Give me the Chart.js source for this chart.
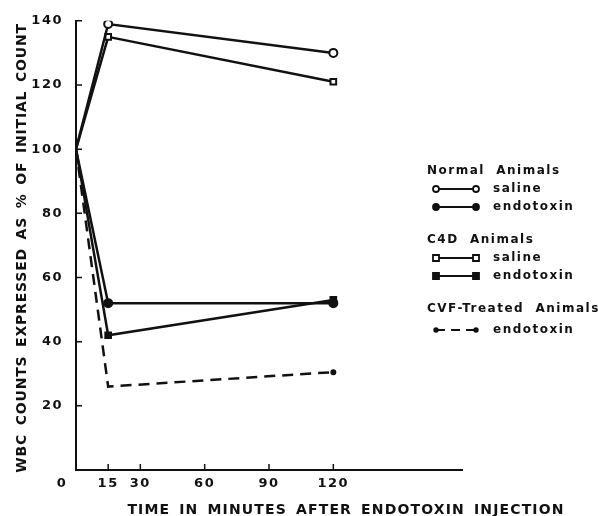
<!DOCTYPE html>
<html>
<head>
<meta charset="utf-8">
<script src="https://cdn.jsdelivr.net/npm/chart.js@4.4.1/dist/chart.umd.min.js"></script>
<style>
  html, body { margin: 0; padding: 0; background: #fff; }
  #wrap { width: 598px; height: 516px; position: relative; }
</style>
</head>
<body>
<div id="wrap"><canvas id="wbc"></canvas></div>
<script>
"use strict";

// values (percent of initial WBC count)
const minutes = [0, 15, 120];
const normalSaline = [100, 139, 130];
const normalEndotoxin = [100, 52, 52];
const c4dSaline = [100, 135, 121];
const c4dEndotoxin = [100, 42, 53];
const cvfEndotoxin = [100, 26, 30.5];

const xTicks = [15, 30, 60, 90, 120];
const yTicks = [20, 40, 60, 80, 100, 120, 140];

const INK = "#111";
const FONT = "'DejaVu Sans', sans-serif";
Chart.defaults.font.family = FONT;
Chart.defaults.font.weight = "bold";
Chart.defaults.color = INK;

function pts(ys) { return minutes.map((m, i) => ({ x: m, y: ys[i] })); }

function series(label, ys, style, filled, extra) {
  return Object.assign({
    label, data: pts(ys),
    borderColor: INK, borderWidth: 2.5,
    pointStyle: style, pointRadius: [0, 4, 4], pointHoverRadius: [0, 4, 4],
    pointBorderWidth: 2, pointBorderColor: INK,
    pointBackgroundColor: filled ? INK : "#fff",
    tension: 0, fill: false,
  }, extra || {});
}

// inward tick marks, axis titles, the corner "0", and the grouped legend
const decor = {
  id: "decor",
  beforeDraw(chart) { chart.ctx.letterSpacing = "1.5px"; },
  afterDraw(chart) {
    const { ctx, scales: { x, y } } = chart;
    ctx.save();
    ctx.strokeStyle = INK;
    ctx.lineWidth = 1.5;
    ctx.beginPath();
    yTicks.forEach(v => {
      const py = y.getPixelForValue(v);
      ctx.moveTo(x.left, py); ctx.lineTo(x.left + 6, py);
    });
    xTicks.forEach(v => {
      const px = x.getPixelForValue(v);
      ctx.moveTo(px, y.bottom); ctx.lineTo(px, y.bottom - 6);
    });
    ctx.stroke();

    ctx.fillStyle = INK;
    ctx.font = "bold 13px " + FONT;
    ctx.textAlign = "center";
    ctx.textBaseline = "middle";
    ctx.fillText("0", 62, 484);

    ctx.font = "bold 14px " + FONT;
    ctx.wordSpacing = "3px";
    ctx.letterSpacing = "1.15px";
    ctx.fillText("TIME IN MINUTES AFTER ENDOTOXIN INJECTION", 346, 510);

    ctx.save();
    ctx.translate(22, 248);
    ctx.rotate(-Math.PI / 2);
    ctx.letterSpacing = "0.8px";
    ctx.fillText("WBC COUNTS EXPRESSED AS % OF INITIAL COUNT", 0, 0);
    ctx.restore();
    ctx.wordSpacing = "0px";

    // legend
    ctx.textAlign = "left";
    ctx.letterSpacing = "1.5px";
    ctx.font = "bold 12px " + FONT;
    const heads = [["Normal  Animals", 171], ["C4D  Animals", 240], ["CVF-Treated  Animals", 309]];
    heads.forEach(([t, yy]) => ctx.fillText(t, 427, yy));
    const rows = [
      ["saline", 189, "circle", false, false],
      ["endotoxin", 207, "circle", true, false],
      ["saline", 258, "rect", false, false],
      ["endotoxin", 276, "rect", true, false],
      ["endotoxin", 330, "dot", true, true],
    ];
    rows.forEach(([t, yy, shape, filled, dashed]) => {
      ctx.lineWidth = 2;
      ctx.setLineDash(dashed ? [9, 6] : []);
      ctx.beginPath();
      ctx.moveTo(436, yy); ctx.lineTo(476, yy);
      ctx.stroke();
      ctx.setLineDash([]);
      [436, 476].forEach(cx => {
        ctx.beginPath();
        if (shape === "circle") ctx.arc(cx, yy, 3, 0, Math.PI * 2);
        else if (shape === "rect") ctx.rect(cx - 3, yy - 3, 6, 6);
        else ctx.arc(cx, yy, 1.8, 0, Math.PI * 2);
        ctx.fillStyle = filled ? INK : "#fff";
        ctx.fill();
        ctx.lineWidth = 1.8;
        ctx.stroke();
      });
      ctx.fillStyle = INK;
      ctx.fillText(t, 493, yy);
    });
    ctx.restore();
  },
};

new Chart(document.getElementById("wbc"), {
  type: "line",
  data: {
    datasets: [
      series("Normal saline", normalSaline, "circle", false),
      series("C4D saline", c4dSaline, "rect", false),
      series("Normal endotoxin", normalEndotoxin, "circle", true),
      series("C4D endotoxin", c4dEndotoxin, "rect", true),
      series("CVF endotoxin", cvfEndotoxin, "circle", true,
        { borderDash: [11, 7], pointRadius: [0, 0, 2], pointHoverRadius: [0, 0, 2] }),
    ],
  },
  options: {
    responsive: true, maintainAspectRatio: false, animation: false,
    layout: { padding: { top: 19, right: 136, bottom: 0, left: 0 } },
    plugins: { legend: { display: false }, tooltip: { enabled: false } },
    elements: { line: { borderCapStyle: "butt" } },
    scales: {
      x: {
        type: "linear", min: 0, max: 180,
        afterBuildTicks: s => { s.ticks = xTicks.map(v => ({ value: v })); },
        afterFit: s => { s.height = 46; },
        grid: { display: true, drawOnChartArea: false, drawTicks: false },
        border: { display: true, color: INK, width: 2 },
        ticks: { font: { size: 13 }, padding: 6, maxRotation: 0, autoSkip: false },
      },
      y: {
        min: 0, max: 140,
        afterBuildTicks: s => { s.ticks = yTicks.map(v => ({ value: v })); },
        afterFit: s => { s.width = 76; },
        grid: { display: true, drawOnChartArea: false, drawTicks: false },
        border: { display: true, color: INK, width: 2 },
        ticks: { font: { size: 13 }, padding: 13 },
      },
    },
  },
  plugins: [decor],
});
</script>
</body>
</html>
